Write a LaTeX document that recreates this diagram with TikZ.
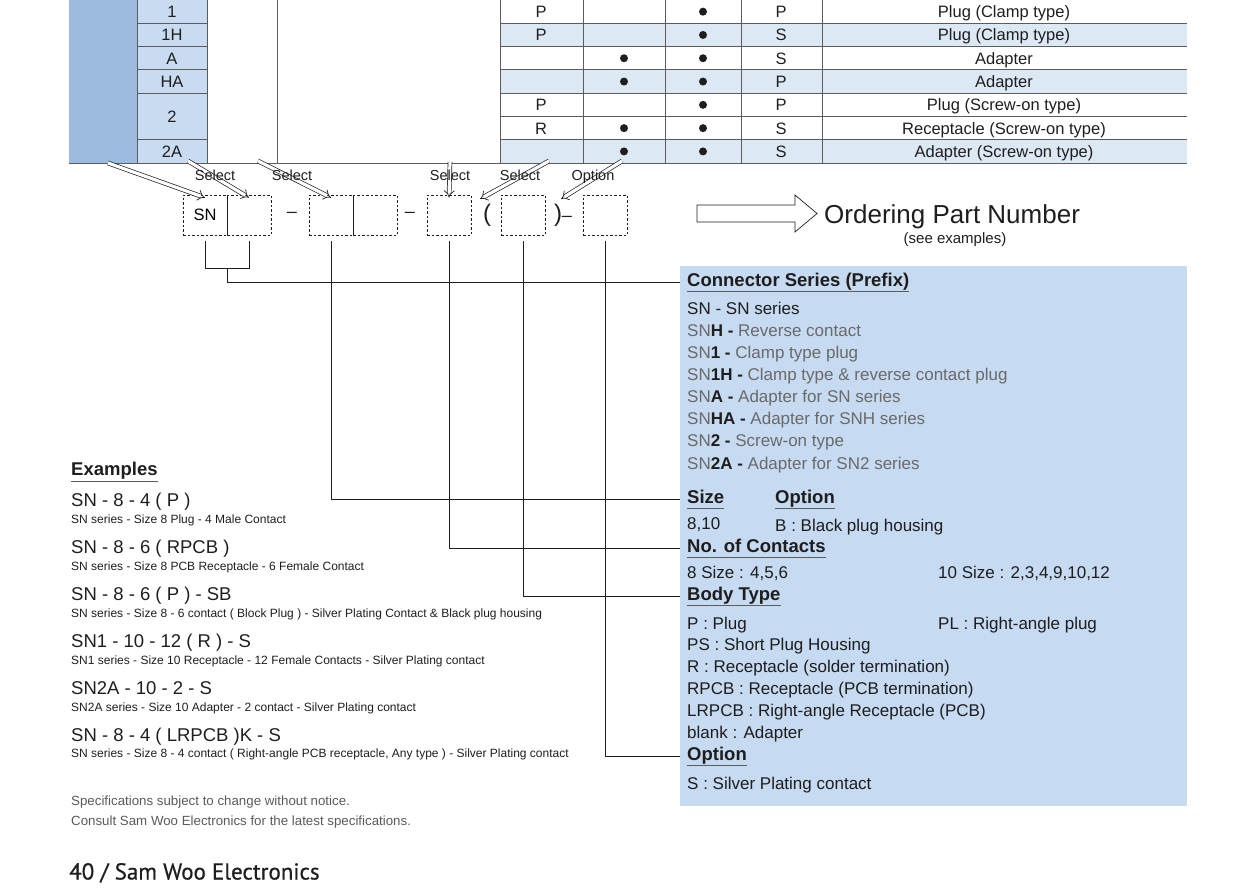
\documentclass[tikz,border=0pt]{standalone}
\usepackage{fontspec}
\setmainfont{Liberation Sans}
\newfontfamily\pagefont[FakeBold=0.6]{PT Sans}
\usetikzlibrary{arrows.meta, positioning, calc}

\definecolor{deepcell}{HTML}{9DBAE0}
\definecolor{palecell}{HTML}{C9DBF0}
\definecolor{rowtint}{HTML}{DDE8F5}
\definecolor{panelblue}{HTML}{C6DAF1}
\definecolor{greytext}{HTML}{6A6A6A}
\definecolor{gridgrey}{HTML}{5C5C5C}
\definecolor{ink}{HTML}{1E1E1E}

\newcommand{\fsz}[1]{\fontsize{#1}{#1}\selectfont}

\tikzset{%
   cell/.style={anchor=base, inner sep=0pt, text=ink, font=\fsz{16.5}},
   bullet/.style={circle, fill=ink, inner sep=0pt, minimum size=8pt},
   gridline/.style={gridgrey, line width=.8pt},
   slot/.style={draw=ink, dash pattern=on 2.5pt off 2pt, line width=.7pt,
      minimum width=44pt, minimum height=40pt, inner sep=0pt, font=\fsz{16.5}},
   dashsign/.style={inner sep=0pt, text=ink},
   pick/.style={ink, double, double distance=3.2pt, line width=.7pt,
      -{Implies[scale=1.5]}},
   pickname/.style={anchor=base, inner sep=0pt, text=ink, font=\fsz{14.5}},
   wire/.style={ink, line width=.8pt},
   heading/.style={anchor=base west, inner sep=0pt, text depth=4.5pt, text=ink,
      font=\bfseries\fsz{18.5}},
   headrule/.style={gridgrey, line width=.7pt},
   entry/.style={anchor=base west, inner sep=0pt, text=ink, font=\fsz{17}},
   dimentry/.style={anchor=base west, inner sep=0pt, text=greytext, font=\fsz{17}},
   excode/.style={anchor=base west, inner sep=0pt, text=ink, font=\fsz{18.5}},
   gloss/.style={anchor=base west, inner sep=0pt, text=ink, font=\fsz{12}},
   note/.style={anchor=base west, inner sep=0pt, text=greytext!85!black, font=\fsz{13.3}},
}

\begin{document}
\begin{tikzpicture}[x=1pt, y=-1pt]
  \useasboundingbox (0,0) rectangle (1259,891);

  % selection table
  \fill[deepcell] (69,0) rectangle (137,163.1);
  \fill[palecell] (137,0) rectangle (207,163.1);
  \foreach \r in {1,3,6}
    \fill[rowtint] (500,{23.3*\r}) rectangle (1187,{23.3*(\r+1)});
  \foreach \y in {23.3,46.6,69.9,93.2,139.8}
    \draw[gridline] (137,\y) -- (207,\y);
  \foreach \y in {23.3,46.6,69.9,93.2,116.5,139.8}
    \draw[gridline] (500,\y) -- (1187,\y);
  \draw[gridline] (69,163.1) -- (1187,163.1);
  \foreach \x in {137,207,277,500,583,665,741,822}
    \draw[gridline] (\x,0) -- (\x,163.1);

  \foreach \c/\y [count=\i] in {1/11.65, 1H/34.95, A/58.25, HA/81.55, 2/116.5, 2A/151.45}
    \node[cell] (tk\i) at (172,\y+5.9) {\c};
  \foreach \a/\b/\d/\t [count=\i] in {
      P/0/P/Plug (Clamp type), P/0/S/Plug (Clamp type), /1/S/Adapter, /1/P/Adapter,
      P/0/P/Plug (Screw-on type), R/1/S/Receptacle (Screw-on type), /1/S/Adapter (Screw-on type)} {
    \pgfmathsetmacro\y{23.3*\i-11.65}
    \node[cell] (ta\i) at (541,\y+5.9) {\a};
    \ifnum\b=1 \node[bullet] (tb\i) at (624,\y) {};\fi
    \node[bullet] (tc\i) at (703,\y) {};
    \node[cell] (td\i) at (781,\y+5.9) {\d};
    \node[cell] (te\i) at (1004,\y+5.9) {\t};
  }

  % part number slots
  \node[slot] (b1) at (205,215) {SN};
  \node[slot] (b2) at (249,215) {};
  \node[dashsign, font=\fsz{18}] (d1) at (292,215) {–};
  \node[slot] (b3) at (331,215) {};
  \node[slot] (b4) at (375,215) {};
  \node[dashsign, font=\fsz{18}] (d2) at (410,215) {–};
  \node[slot] (b5) at (449,215) {};
  \node[dashsign, font=\fsz{24}] (lp) at (487,215) {(};
  \node[slot] (b6) at (523,215) {};
  \node[dashsign, font=\fsz{24}] (rp) at (563,215) {)\fsz{18}–};
  \node[slot] (b7) at (605,215) {};

  \coordinate (s1) at (108,163);
  \coordinate (s2) at (188,161);
  \coordinate (s3) at (258,161);
  \coordinate (s4) at (450,162);
  \coordinate (s5) at (549,161);
  \coordinate (s6) at (622,161);
  \coordinate (t5) at (480,199);
  \coordinate (t6) at (561,199);
  \draw[pick] (s1) -- ([yshift=-3pt]b1.north);
  \draw[pick] (s2) -- ([yshift=-3pt]b2.north);
  \draw[pick] (s3) -- ([yshift=-3pt]b3.north);
  \draw[pick] (s4) -- ([yshift=-3pt]b5.north);
  \draw[pick] (s5) -- (t5);
  \draw[pick] (s6) -- (t6);
  \node[pickname] (l1) at (215,180.5) {Select};
  \node[pickname] (l2) at (292,180.5) {Select};
  \node[pickname] (l3) at (450,180.5) {Select};
  \node[pickname] (l4) at (520,180.5) {Select};
  \node[pickname] (l5) at (593,180.5) {Option};

  \draw[ink, line width=.7pt, fill=white] (697,205) -- (795,205) -- (795,195) -- (817,213.5)
     -- (795,232) -- (795,222) -- (697,222) -- cycle;
  \node[anchor=base west, inner sep=0pt, text=ink, font=\fsz{26}] (opn) at (824,223.5) {Ordering Part Number};
  \node[anchor=base, inner sep=0pt, text=ink, font=\fsz{15}] (see) at (955,243) {(see examples)};

  % legend panel
  \node[fill=panelblue, minimum width=507pt, minimum height=540pt, inner sep=0pt] (panel) at (933.5,536) {};
  \node[heading] (hcs) at (687,286.5) {Connector Series (Prefix)};
  \node[entry] (p1) at (687,314) {SN - SN series};
  \foreach \c/\t [count=\i from 2] in {H/Reverse contact, 1/Clamp type plug,
      1H/Clamp type \& reverse contact plug, A/Adapter for SN series,
      HA/Adapter for SNH series, 2/Screw-on type, 2A/Adapter for SN2 series}
    \node[dimentry] (p\i) at (687,{314+22.15*(\i-1)}) {SN\textcolor{ink}{\bfseries\c\ -} \t};

  \node[heading] (hsz) at (687,503.5) {Size};
  \node[heading] (hopt) at (775,503.5) {Option};
  \node[entry] (sz) at (687,529.5) {8,10};
  \node[entry] (ob) at (775,531) {B : Black plug housing};
  \node[heading] (hnc) at (687,552.5) {No. of Contacts};
  \node[entry] (n8) at (687,578) {8 Size : 4,5,6};
  \node[entry] (n10) at (938,578) {10 Size : 2,3,4,9,10,12};
  \node[heading] (hbt) at (687,600.5) {Body Type};
  \node[entry] (bp) at (687,629) {P : Plug};
  \node[entry] (bpl) at (938,629) {PL : Right-angle plug};
  \node[entry] (bps) at (687,650.5) {PS : Short Plug Housing};
  \node[entry] (br) at (687,672.5) {R : Receptacle (solder termination)};
  \node[entry] (brp) at (687,694.5) {RPCB : Receptacle (PCB termination)};
  \node[entry] (blr) at (687,716.5) {LRPCB : Right-angle Receptacle (PCB)};
  \node[entry] (bbl) at (687,738.5) {blank : Adapter};
  \node[heading] (hos) at (687,760.5) {Option};
  \node[entry] (os) at (687,789) {S : Silver Plating contact};
  \foreach \h in {hcs,hsz,hopt,hnc,hbt,hos}
    \draw[headrule] (\h.south west) -- (\h.south east);

  % connectors from the slots
  \draw[wire] ([yshift=-6pt]b1.south) -- ++(0,27) coordinate (j1) -| ([yshift=-6pt]b2.south);
  \draw[wire] ($(j1)+(22,0)$) |- (panel.west |- hcs.center);
  \draw[wire] ([yshift=-6pt]b3.south) |- (panel.west |- hsz.center);
  \draw[wire] ([yshift=-6pt]b5.south) |- (panel.west |- hnc.center);
  \draw[wire] ([yshift=-6pt]b6.south) |- (panel.west |- hbt.center);
  \draw[wire] ([yshift=-6pt]b7.south) |- (panel.west |- hos.center);

  % examples
  \node[heading, text depth=6pt] (hex) at (71,475.5) {Examples};
  \draw[headrule] (hex.south west) -- (hex.south east);
  \node[excode] (e1) at (71,506.5) {SN - 8 - 4 ( P )};
  \node[gloss] (g1) at (71,523) {SN series - Size 8 Plug - 4 Male Contact};
  \node[excode] (e2) at (71,553.5) {SN - 8 - 6 ( RPCB )};
  \node[gloss] (g2) at (71,570) {SN series - Size 8 PCB Receptacle - 6 Female Contact};
  \node[excode] (e3) at (71,600.5) {SN - 8 - 6 ( P ) - SB};
  \node[gloss] (g3) at (71,617) {SN series - Size 8 - 6 contact ( Block Plug ) - Silver Plating Contact \& Black plug housing};
  \node[excode] (e4) at (71,647.5) {SN1 - 10 - 12 ( R ) - S};
  \node[gloss] (g4) at (71,664) {SN1 series - Size 10 Receptacle - 12 Female Contacts - Silver Plating contact};
  \node[excode] (e5) at (71,694.5) {SN2A - 10 - 2 - S};
  \node[gloss] (g5) at (71,711) {SN2A series - Size 10 Adapter - 2 contact - Silver Plating contact};
  \node[excode] (e6) at (71,741.5) {SN - 8 - 4 ( LRPCB )K - S};
  \node[gloss] (g6) at (71,757) {SN series - Size 8 - 4 contact ( Right-angle PCB receptacle, Any type ) - Silver Plating contact};

  \node[note] (n1) at (71,805.5) {Specifications subject to change without notice.};
  \node[note] (n2) at (71,825.5) {Consult Sam Woo Electronics for the latest specifications.};
  \node[anchor=base west, inner sep=0pt, text=ink, font=\pagefont\fsz{23}] (pg) at (69,879.5) {40 / Sam Woo Electronics};
\end{tikzpicture}
\end{document}
